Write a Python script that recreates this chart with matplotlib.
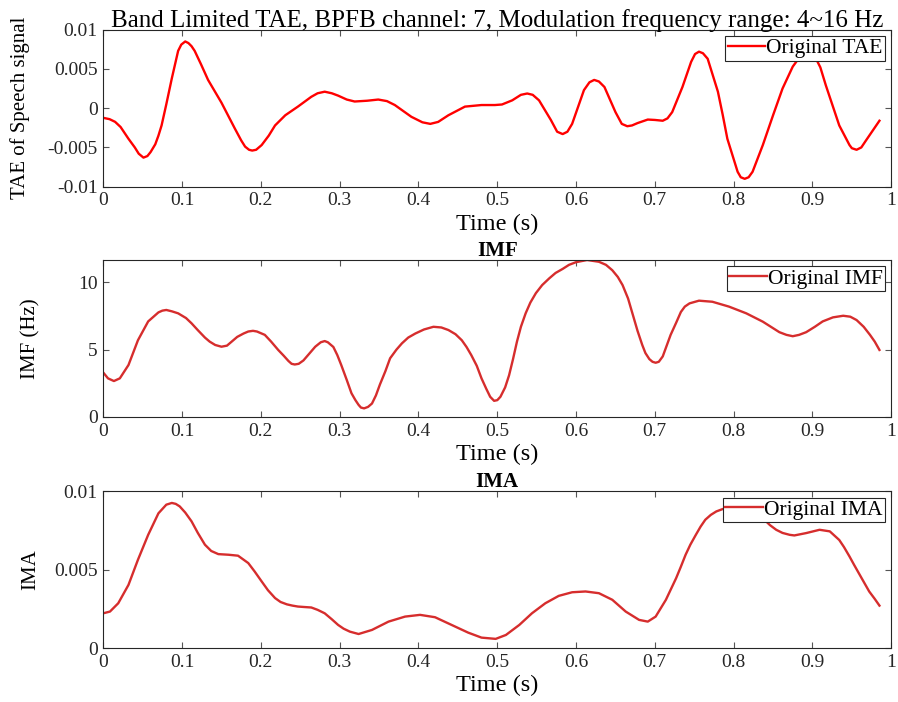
import numpy as np
import matplotlib as mpl
import matplotlib.pyplot as plt
from matplotlib.ticker import FormatStrFormatter

mpl.rcParams['font.family'] = ['Liberation Serif', 'DejaVu Serif']

# values
tae_t = [0.0, 0.008, 0.015, 0.022, 0.032, 0.040, 0.045, 0.051, 0.056, 0.060,
         0.066, 0.070, 0.074, 0.080, 0.087, 0.095, 0.099, 0.104, 0.108, 0.112,
         0.116, 0.124, 0.133, 0.150, 0.167, 0.175, 0.180, 0.185, 0.189, 0.194,
         0.201, 0.210, 0.218, 0.231, 0.247, 0.264, 0.272, 0.281, 0.290, 0.298,
         0.309, 0.319, 0.335, 0.349, 0.360, 0.370, 0.391, 0.405, 0.415, 0.425,
         0.438, 0.459, 0.480, 0.497, 0.506, 0.519, 0.530, 0.538, 0.545, 0.553,
         0.568, 0.576, 0.583, 0.589, 0.595, 0.610, 0.617, 0.623, 0.629, 0.636,
         0.650, 0.658, 0.665, 0.671, 0.678, 0.691, 0.700, 0.710, 0.716, 0.722,
         0.735, 0.746, 0.751, 0.756, 0.761, 0.767, 0.780, 0.786, 0.792, 0.805,
         0.809, 0.814, 0.819, 0.824, 0.837, 0.850, 0.862, 0.875, 0.883, 0.890,
         0.896, 0.903, 0.910, 0.917, 0.934, 0.947, 0.950, 0.956, 0.962, 0.968,
         0.985]
tae_v = [-1.23, -1.4, -1.74, -2.4, -3.9, -5.0, -5.8, -6.3, -6.1, -5.6,
         -4.6, -3.5, -2.2, 0.5, 3.8, 7.3, 8.1, 8.5, 8.3, 7.9,
         7.3, 5.6, 3.6, 0.7, -2.6, -4.1, -4.9, -5.3, -5.4, -5.3,
         -4.7, -3.5, -2.2, -0.9, 0.2, 1.45, 1.9, 2.1, 1.9, 1.6,
         1.1, 0.85, 0.95, 1.1, 0.9, 0.4, -1.1, -1.8, -2.0, -1.75,
         -0.9, 0.2, 0.4, 0.4, 0.47, 1.0, 1.7, 1.87, 1.7, 1.0,
         -1.5, -3.0, -3.3, -3.0, -2.0, 2.3, 3.3, 3.6, 3.4, 2.7,
         -0.5, -2.0, -2.3, -2.2, -1.9, -1.45, -1.5, -1.6, -1.3, -0.5,
         2.7, 5.9, 6.9, 7.2, 7.0, 6.3, 2.1, -0.8, -3.9, -8.1,
         -8.8, -9.0, -8.8, -8.1, -4.7, -0.9, 2.5, 5.3, 6.4, 6.95,
         7.0, 6.6, 5.2, 2.9, -2.2, -4.7, -5.1, -5.3, -5.0, -4.1,
         -1.6]
tae_v = [v * 1e-3 for v in tae_v]

imf_t = [0.0, 0.006, 0.0135, 0.021, 0.032, 0.044, 0.057, 0.070, 0.075, 0.080,
         0.087, 0.095, 0.105, 0.112, 0.120, 0.129, 0.135, 0.142, 0.150, 0.157,
         0.163, 0.170, 0.178, 0.184, 0.190, 0.195, 0.205, 0.213, 0.222, 0.229,
         0.235, 0.239, 0.243, 0.248, 0.254, 0.262, 0.269, 0.276, 0.281, 0.285,
         0.292, 0.297, 0.302, 0.309, 0.315, 0.320, 0.324, 0.327, 0.331, 0.336,
         0.341, 0.346, 0.351, 0.358, 0.364, 0.372, 0.379, 0.387, 0.396, 0.407,
         0.419, 0.429, 0.438, 0.447, 0.455, 0.461, 0.467, 0.474, 0.480, 0.486,
         0.491, 0.496, 0.500, 0.504, 0.510, 0.515, 0.520, 0.525, 0.530, 0.536,
         0.542, 0.549, 0.557, 0.566, 0.574, 0.583, 0.591, 0.600, 0.614, 0.629,
         0.638, 0.646, 0.653, 0.659, 0.666, 0.672, 0.678, 0.684, 0.688, 0.693,
         0.697, 0.701, 0.705, 0.710, 0.715, 0.720, 0.727, 0.733, 0.738, 0.744,
         0.756, 0.773, 0.794, 0.816, 0.837, 0.858, 0.867, 0.875, 0.883, 0.892,
         0.903, 0.913, 0.926, 0.939, 0.948, 0.956, 0.965, 0.973, 0.979, 0.985]
imf_v = [3.3, 2.87, 2.67, 2.87, 3.86, 5.7, 7.1, 7.77, 7.9, 7.95,
         7.85, 7.7, 7.35, 6.96, 6.45, 5.9, 5.6, 5.35, 5.22, 5.3,
         5.6, 5.95, 6.2, 6.35, 6.4, 6.35, 6.1, 5.6, 4.98, 4.55,
         4.16, 3.95, 3.9, 3.95, 4.2, 4.75, 5.22, 5.55, 5.64, 5.55,
         5.2, 4.6, 3.86, 2.75, 1.76, 1.25, 0.9, 0.7, 0.64, 0.75,
         1.0, 1.6, 2.4, 3.4, 4.36, 5.0, 5.47, 5.9, 6.2, 6.5,
         6.7, 6.65, 6.46, 6.15, 5.7, 5.2, 4.6, 3.8, 2.87, 2.1,
         1.5, 1.2, 1.25, 1.5, 2.2, 3.1, 4.3, 5.6, 6.7, 7.7,
         8.5, 9.2, 9.8, 10.3, 10.7, 11.0, 11.3, 11.5, 11.66, 11.53,
         11.3, 10.9, 10.4, 9.8, 8.8, 7.6, 6.4, 5.35, 4.75, 4.3,
         4.1, 4.03, 4.1, 4.5, 5.3, 6.1, 7.0, 7.8, 8.2, 8.44,
         8.64, 8.56, 8.2, 7.7, 7.08, 6.3, 6.1, 6.0, 6.1, 6.3,
         6.7, 7.1, 7.4, 7.52, 7.45, 7.2, 6.7, 6.1, 5.6, 4.98]

ima_t = [0.0, 0.0085, 0.019, 0.032, 0.044, 0.057, 0.070, 0.080, 0.087, 0.092,
         0.097, 0.104, 0.112, 0.120, 0.129, 0.137, 0.146, 0.159, 0.171, 0.184,
         0.192, 0.201, 0.209, 0.218, 0.225, 0.233, 0.240, 0.247, 0.255, 0.264,
         0.272, 0.281, 0.290, 0.298, 0.305, 0.313, 0.324, 0.341, 0.362, 0.383,
         0.402, 0.421, 0.442, 0.463, 0.480, 0.498, 0.511, 0.528, 0.544, 0.561,
         0.578, 0.595, 0.612, 0.629, 0.646, 0.663, 0.680, 0.691, 0.701, 0.714,
         0.727, 0.733, 0.739, 0.745, 0.752, 0.758, 0.764, 0.771, 0.778, 0.786,
         0.794, 0.805, 0.816, 0.827, 0.839, 0.846, 0.854, 0.862, 0.871, 0.877,
         0.892, 0.909, 0.922, 0.934, 0.940, 0.947, 0.953, 0.960, 0.966, 0.972,
         0.979, 0.985]
ima_v = [2.23, 2.34, 2.87, 4.04, 5.64, 7.23, 8.6, 9.15, 9.26, 9.2,
         9.04, 8.65, 8.09, 7.35, 6.6, 6.2, 6.0, 5.96, 5.9, 5.43,
         4.9, 4.26, 3.7, 3.2, 2.95, 2.8, 2.72, 2.66, 2.63, 2.6,
         2.45, 2.23, 1.85, 1.49, 1.25, 1.06, 0.91, 1.17, 1.7, 2.02,
         2.13, 1.98, 1.49, 1.0, 0.68, 0.6, 0.85, 1.49, 2.23, 2.87,
         3.34, 3.57, 3.62, 3.51, 3.09, 2.34, 1.81, 1.70, 2.02, 3.09,
         4.47, 5.2, 5.96, 6.6, 7.23, 7.75, 8.19, 8.5, 8.72, 8.87,
         8.94, 8.93, 8.83, 8.55, 8.19, 7.85, 7.55, 7.35, 7.23, 7.19,
         7.34, 7.55, 7.45, 6.9, 6.45, 5.85, 5.3, 4.68, 4.15, 3.62,
         3.15, 2.72]
ima_v = [v * 1e-3 for v in ima_v]

x_ticks = np.arange(0, 1.01, 0.1)

fig = plt.figure(figsize=(8.98, 7.02), dpi=100)
left, width, height = 0.115, 0.8775, 0.2236
ax1 = fig.add_axes([left, 0.7341, width, height])
ax2 = fig.add_axes([left, 0.4060, width, height])
ax3 = fig.add_axes([left, 0.0765, width, height])

ax1.plot(tae_t, tae_v, color='#ff0000', lw=1.7, label='Original TAE')
ax2.plot(imf_t, imf_v, color='#d62d2d', lw=1.7, label='Original IMF')
ax3.plot(ima_t, ima_v, color='#d62d2d', lw=1.7, label='Original IMA')

ax1.set_ylim(-0.01, 0.01)
ax1.set_yticks([-0.01, -0.005, 0, 0.005, 0.01])
ax2.set_ylim(0, 11.66)
ax2.set_yticks([0, 5, 10])
ax3.set_ylim(0, 0.01)
ax3.set_yticks([0, 0.005, 0.01])

ax1.set_title('Band Limited TAE, BPFB channel: 7, Modulation frequency range: 4~16 Hz',
              fontsize=18, pad=2)
ax2.set_title('IMF', fontsize=15, fontweight='bold', pad=3)
ax3.set_title('IMA', fontsize=15, fontweight='bold', pad=3)
ax1.set_ylabel('TAE of Speech signal', fontsize=15)
ax2.set_ylabel('IMF (Hz)', fontsize=15)
ax3.set_ylabel('IMA', fontsize=15)
ax1.yaxis.set_label_coords(-0.093, 0.5)
ax2.yaxis.set_label_coords(-0.080, 0.5)
ax3.yaxis.set_label_coords(-0.080, 0.5)

for ax in (ax1, ax2, ax3):
    ax.set_xlim(0, 1)
    ax.set_xticks(x_ticks)
    ax.xaxis.set_major_formatter(FormatStrFormatter('%g'))
    ax.yaxis.set_major_formatter(FormatStrFormatter('%g'))
    ax.set_xlabel('Time (s)', fontsize=17.5, labelpad=3)
    ax.tick_params(direction='in', top=True, right=True, length=4,
                   width=0.8, color='#555555', labelsize=14, labelcolor='#262626', pad=4)
    for s in ax.spines.values():
        s.set_color('#262626')
        s.set_linewidth(0.8)
    leg = ax.legend(loc='upper right', fontsize=15.5, handlelength=1.75,
                    handletextpad=0.05, borderpad=0.1, borderaxespad=0.3,
                    fancybox=False, framealpha=1)
    leg.get_frame().set_edgecolor('#262626')
    leg.get_frame().set_linewidth(0.8)

fig.savefig('out.png', dpi=100)
